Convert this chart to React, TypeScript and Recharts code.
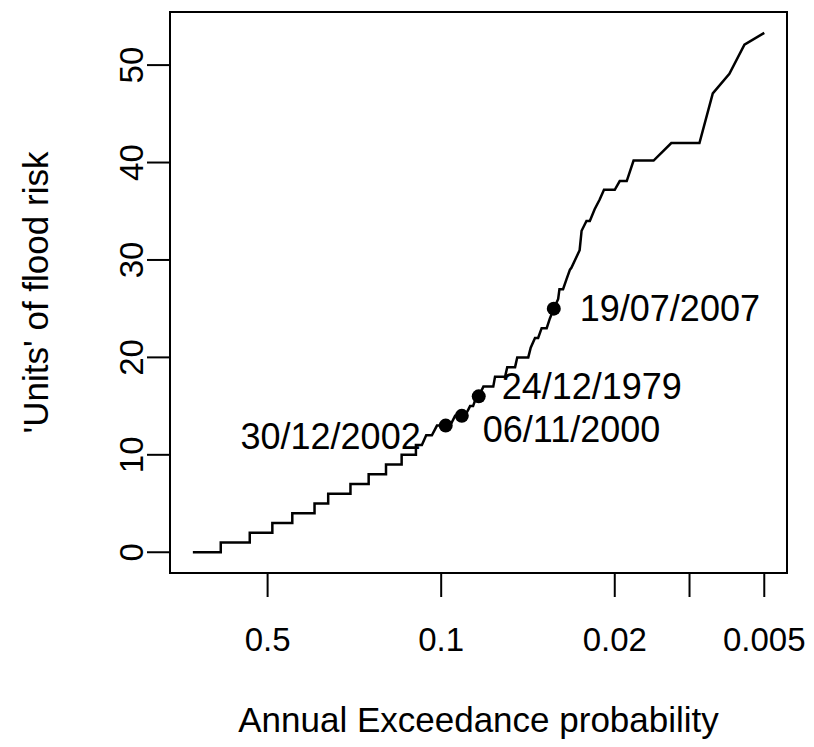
import { ComposedChart, Line, Scatter, XAxis, YAxis, ReferenceArea } from "recharts";

// Annual exceedance probability (x) and units of flood risk (y)
const AEP = [
  1.0, 0.772, 0.772, 0.59, 0.59, 0.4785, 0.4785, 0.3977, 0.3977, 0.3236, 0.3236, 0.2851, 0.2851,
  0.2319, 0.2319, 0.1959, 0.1959, 0.1668, 0.1668, 0.1443, 0.1443, 0.1264, 0.1264, 0.1196, 0.1149,
  0.109, 0.104, 0.0959, 0.092, 0.0879, 0.0826, 0.0801, 0.0765, 0.0744, 0.072, 0.0706, 0.0676,
  0.0617, 0.0607, 0.0553, 0.0542, 0.0504, 0.0494, 0.0446, 0.0436, 0.0419, 0.0407, 0.0394, 0.0376,
  0.0365, 0.0352, 0.0338, 0.0334, 0.0323, 0.0313, 0.0303, 0.0299, 0.0277, 0.0272, 0.026, 0.0252,
  0.0241, 0.023, 0.0221, 0.02, 0.0191, 0.0179, 0.0168, 0.01395, 0.01184, 0.00912, 0.00806,
  0.00691, 0.00601, 0.005,
];
const UNITS = [
  0, 0, 1, 1, 2, 2, 3, 3, 4, 4, 5, 5, 6, 6, 7, 7, 8, 8, 9, 9, 10, 10, 11, 11, 12, 12, 13, 13, 13,
  14, 14, 14, 15, 15, 16, 16, 17, 17, 18, 18, 19, 19, 20, 20, 21, 22, 22, 23, 23, 24, 25, 26, 27,
  27, 28, 29, 29.2, 31, 33, 34, 34, 35.2, 36.2, 37.2, 37.2, 38.1, 38.1, 40.2, 40.2, 42, 42, 47.1,
  49.1, 52.1, 53.3,
];

// highlighted events
const EVENT_DATES = ["30/12/2002", "06/11/2000", "24/12/1979", "19/07/2007"];
const EVENT_AEP = [0.0959, 0.0826, 0.0706, 0.0352];
const EVENT_UNITS = [13, 14, 16, 25];

const X_TICKS = [0.5, 0.1, 0.02, 0.01, 0.005];
const Y_TICKS = [0, 10, 20, 30, 40, 50];
const X_DOMAIN: [number, number] = [0.00405, 1.236];
const Y_DOMAIN: [number, number] = [-2.13, 55.45];

const curve = AEP.map((p, i) => ({ p, u: UNITS[i] }));
const events = EVENT_DATES.map((date, i) => ({ date, p: EVENT_AEP[i], u: EVENT_UNITS[i] }));

// where each date label sits relative to its point
const LABEL_OFFSET: Record<string, { dx: number; dy: number; anchor: "start" | "end" }> = {
  "30/12/2002": { dx: -25, dy: 11, anchor: "end" },
  "06/11/2000": { dx: 21, dy: 14, anchor: "start" },
  "24/12/1979": { dx: 23, dy: -10, anchor: "start" },
  "19/07/2007": { dx: 26, dy: 0, anchor: "start" },
};

const FONT = "'Liberation Sans', Arial, Helvetica, sans-serif";
const FS = 33; // tick labels
const FS_LAB = 35; // axis titles
const FS_TXT = 36; // date labels

function EventMark(props: any) {
  const { cx, cy, payload } = props;
  const o = LABEL_OFFSET[payload.date];
  return (
    <g>
      <circle cx={cx} cy={cy} r={7} fill="#000" />
      <text
        x={cx + o.dx}
        y={cy + o.dy}
        textAnchor={o.anchor}
        dominantBaseline="central"
        fontFamily={FONT}
        fontSize={FS_TXT}
        fill="#000"
      >
        {payload.date}
      </text>
    </g>
  );
}

function YTick(props: any) {
  const { x, y, payload } = props;
  const bx = x - 4;
  return (
    <text
      x={bx}
      y={y}
      transform={`rotate(-90, ${bx}, ${y})`}
      textAnchor="middle"
      fontFamily={FONT}
      fontSize={FS}
      fill="#000"
    >
      {payload.value}
    </text>
  );
}

export default function App() {
  return (
    <div style={{ position: "absolute", left: 0, top: 0, background: "#fff" }}>
      <ComposedChart width={814} height={747} margin={{ top: 12, right: 27, bottom: 0, left: 0 }}>
        <XAxis
          dataKey="p"
          type="number"
          scale="log"
          domain={X_DOMAIN}
          allowDataOverflow
          reversed
          ticks={X_TICKS}
          tickFormatter={(v: number) => (v === 0.01 ? "" : String(v))}
          height={174}
          tickSize={24}
          tickMargin={31}
          axisLine={false}
          tickLine={{ stroke: "#000", strokeWidth: 2 }}
          tick={{ fontFamily: FONT, fontSize: FS, fill: "#000" }}
          label={{
            value: "Annual Exceedance probability",
            position: "insideBottom",
            offset: 15,
            style: { fontFamily: FONT, fontSize: FS_LAB, fill: "#000" },
          }}
        />
        <YAxis
          type="number"
          domain={Y_DOMAIN}
          allowDataOverflow
          ticks={Y_TICKS}
          width={170}
          tickSize={23}
          tickMargin={0}
          axisLine={false}
          tickLine={{ stroke: "#000", strokeWidth: 2 }}
          tick={<YTick />}
          label={{
            value: "'Units' of flood risk",
            content: (lp: any) => {
              const vb = lp.viewBox;
              const cx = 48;
              const cy = vb.y + vb.height / 2;
              return (
                <text
                  x={cx}
                  y={cy}
                  transform={`rotate(-90, ${cx}, ${cy})`}
                  textAnchor="middle"
                  fontFamily={FONT}
                  fontSize={FS_LAB}
                  fill="#000"
                >
                  'Units' of flood risk
                </text>
              );
            },
          }}
        />
        <ReferenceArea
          x1={X_DOMAIN[0]}
          x2={X_DOMAIN[1]}
          y1={Y_DOMAIN[0]}
          y2={Y_DOMAIN[1]}
          fill="none"
          stroke="#000"
          strokeWidth={2}
          ifOverflow="visible"
        />
        <Line
          data={curve}
          dataKey="u"
          type="linear"
          stroke="#000"
          strokeWidth={2.5}
          dot={false}
          isAnimationActive={false}
        />
        <Scatter data={events} dataKey="u" shape={<EventMark />} isAnimationActive={false} />
      </ComposedChart>
    </div>
  );
}
